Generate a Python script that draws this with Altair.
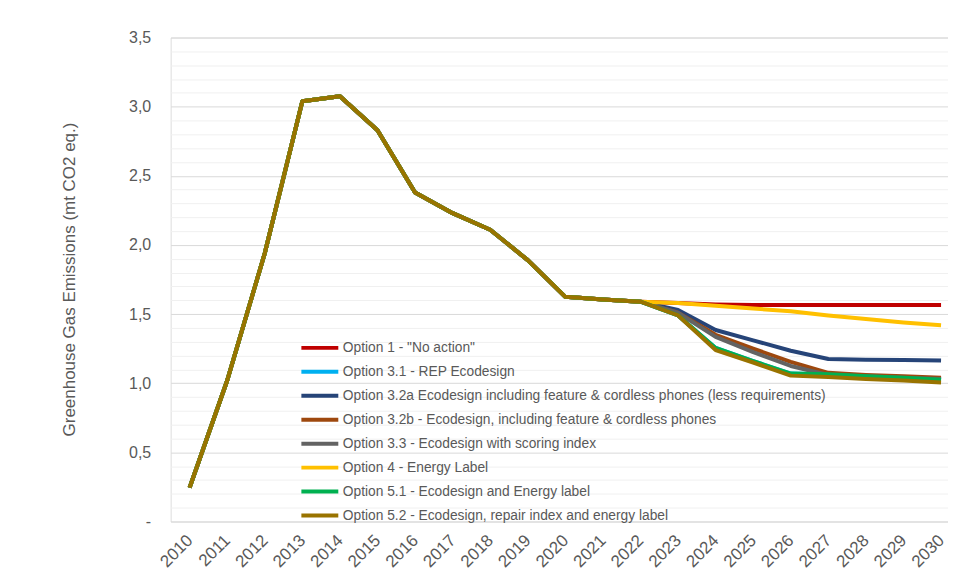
import altair as alt
import pandas as pd

years = list(range(2010, 2031))
common = [0.245, 1.02, 1.94, 3.04, 3.075, 2.83, 2.38, 2.23, 2.11, 1.89, 1.625, 1.605, 1.59]

series_names = [
    'Option 1 - "No action"',
    'Option 3.1 - REP Ecodesign',
    'Option 3.2a Ecodesign including feature & cordless phones (less requirements)',
    'Option 3.2b -  Ecodesign, including feature & cordless phones',
    'Option 3.3 - Ecodesign with scoring index',
    'Option 4 - Energy Label',
    'Option 5.1 - Ecodesign and Energy label',
    'Option 5.2 - Ecodesign, repair index and energy label',
]
series_colors = ["#C00000", "#00B0F0", "#264478", "#9E480E", "#636363", "#FFC000", "#00B050", "#997300"]

tail_opt1 = [1.58, 1.57, 1.565, 1.565, 1.565, 1.565, 1.565, 1.565]
tail_opt31 = [1.49, 1.255, 1.16, 1.07, 1.065, 1.05, 1.04, 1.025]
tail_opt32a = [1.53, 1.385, 1.31, 1.235, 1.175, 1.17, 1.168, 1.165]
tail_opt32b = [1.51, 1.35, 1.25, 1.155, 1.075, 1.06, 1.05, 1.04]
tail_opt33 = [1.51, 1.335, 1.225, 1.125, 1.06, 1.05, 1.04, 1.03]
tail_opt4 = [1.58, 1.56, 1.54, 1.52, 1.49, 1.465, 1.44, 1.42]
tail_opt51 = [1.49, 1.255, 1.16, 1.07, 1.065, 1.05, 1.04, 1.025]
tail_opt52 = [1.49, 1.24, 1.15, 1.055, 1.045, 1.03, 1.02, 1.005]
tails = [tail_opt1, tail_opt31, tail_opt32a, tail_opt32b, tail_opt33, tail_opt4, tail_opt51, tail_opt52]

y_ticks = [round(i * 0.1, 1) for i in range(36)]

rows = []
for name, tail in zip(series_names, tails):
    for yr, v in zip(years, common + tail):
        rows.append({"year": yr, "value": v, "series": name})
df = pd.DataFrame(rows)

FONT = "Liberation Sans"
GRAY = "#595959"

color_scale = alt.Scale(domain=series_names, range=series_colors)

layers = []
for i, name in enumerate(series_names):
    enc_color = alt.Color(
        "series:N",
        scale=color_scale,
        sort=series_names,
        legend=alt.Legend(
            title=None,
            orient="none",
            legendX=137.5,
            legendY=299,
            symbolType="M-1.85,0L1.85,0",
            symbolSize=400,
            symbolStrokeWidth=4,
            labelFont=FONT,
            labelFontSize=13.8,
            labelColor=GRAY,
            labelOffset=11,
            rowPadding=4,
            labelLimit=0,
        ) if i == 0 else None,
    )
    layer = alt.Chart(df).transform_filter(
        alt.datum.series == name
    ).mark_line(strokeWidth=4, strokeJoin="round", clip=False).encode(
        x=alt.X(
            "year:Q",
            scale=alt.Scale(domain=[2009.495, 2030.185], nice=False, zero=False),
            axis=alt.Axis(
                values=years, format="d", labelAngle=-45, labelAlign="right",
                labelBaseline="middle", grid=False, domain=False, ticks=False,
                labelFont=FONT, labelFontSize=17, labelColor=GRAY, labelPadding=16,
                title=None, labelFlush=False, labelOverlap=False,
            ),
        ),
        y=alt.Y(
            "value:Q",
            scale=alt.Scale(domain=[0, 3.5], nice=False),
            axis=alt.Axis(
                values=y_ticks,
                labelExpr="round(datum.value*10) % 5 != 0 ? '' : (datum.value == 0 ? '-' : replace(format(datum.value, '.1f'), '.', ','))",
                gridColor={"condition": {"test": "round(datum.value*10) % 5 == 0", "value": "#D9D9D9"}, "value": "#F0F0F0"},
                gridWidth=1,
                domain=False, ticks=False,
                labelFont=FONT, labelFontSize=16, labelColor=GRAY, labelPadding=20,
                title="Greenhouse Gas Emissions (mt CO2 eq.)",
                titleFont=FONT, titleFontSize=17, titleFontWeight="normal", titleColor=GRAY,
                titleX=-101, titleY=242, titleAngle=-90, titleAlign="center", titleBaseline="middle",
                labelOverlap=False,
            ),
        ),
        color=enc_color,
    )
    layers.append(layer)

chart = alt.layer(*layers).properties(
    width=779,
    height=485,
    autosize=alt.AutoSizeParams(type="none"),
    padding={"left": 163, "top": 29, "right": 0, "bottom": 52},
).configure_view(stroke=None).configure(background="white")

chart.save("out.html", embed_options={"renderer": "svg", "actions": False})
